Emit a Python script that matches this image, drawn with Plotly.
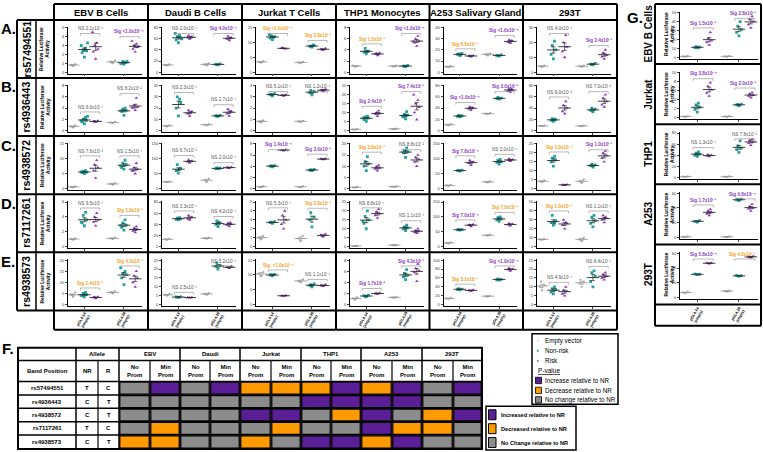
import plotly.graph_objects as go

W, H = 763, 452

cells = ["EBV B Cells", "Daudi B Cells", "Jurkat T Cells", "THP1 Monocytes", "A253 Salivary Gland", "293T"]
snps = ["rs57494551", "rs4936443", "rs4938572", "rs7117261", "rs4938573"]
row_letters = ["A.", "B.", "C.", "D.", "E."]
vector_labels = ["pGL4.14<br>(empty)", "pGL4.26<br>(empty)"]
g_cells = ["EBV B Cells", "Jurkat", "THP1", "A253", "293T"]

# each panel: [EV1, NR1, R1, EV2, NR2, R2]
A_EBV = [[0.7, 0.8, 0.9], [1.7, 2.2, 2.4, 2.5, 2.7, 3.0, 3.3, 2.6], [1.5, 2.3, 2.6, 3.0, 3.3, 4.5], [1.0, 1.2, 1.3, 1.1], [0.9, 1.0, 1.1, 1.2, 1.1, 1.0, 1.2], [2.3, 2.6, 2.8, 3.0, 3.2, 3.5, 2.9]]
A_Daudi = [[12, 13, 14], [53, 58, 62, 64, 66, 70, 60], [60, 62, 64, 66, 62], [12, 14, 16], [13, 14, 15, 14], [57, 60, 62, 65, 61]]
A_Jurkat = [[3.2, 3.5, 3.7], [11, 11.5, 12, 12.3, 11.8, 12.6], [8, 8.1, 7.9, 8.2], [3, 3.3, 3.5], [8.5, 8.8, 9, 8.6, 9.2], [7.5, 7.8, 8, 7.6]]
A_THP1 = [[1.0, 1.2, 1.1], [3.3, 3.6, 3.8, 4.3, 3.7], [3.0, 3.3, 3.5, 3.4, 3.2], [1.0, 1.1, 1.2], [1.0, 1.1, 1.2, 1.1], [4.7, 5.3, 5.6, 6.0, 6.5, 5.5]]
A_A253 = [[4.5, 5, 5.5], [15, 16, 17, 16.5, 15.5], [14, 14.5, 15, 14.8], [15, 16, 17], [14.5, 15, 15.5, 15.2], [26, 27, 28, 29, 28.5]]
A_293T = [[3.5, 4, 4.5], [9, 12, 15, 18, 21], [10, 14, 17, 20, 25], [3.5, 4, 4.5], [5, 5.5, 6, 5.2], [9, 10.5, 11.5, 13, 15]]

B_EBV = [[0.5, 0.7, 0.9], [1.2, 1.5, 1.8, 2.0, 2.3, 1.7, 2.5], [1.5, 1.6, 1.7, 1.6], [1.3, 1.4, 1.5], [2.7, 3.4, 3.6, 3.8, 4.0, 3.5], [3.6, 4.0, 4.2, 4.5, 5.8, 4.1]]
B_Daudi = [[3.5, 4, 4.5], [13, 20, 25, 30, 28], [13, 15, 17, 18, 16], [4.5, 5, 5.5], [12.5, 13, 13.5, 13], [13, 15, 17, 19, 17]]
B_Jurkat = [[0.7, 0.8, 0.9], [3.1, 3.2, 3.3, 3.25], [3.1, 3.15, 3.2], [0.75, 0.8, 0.85], [3.2, 3.4, 3.5, 3.6], [3.5, 3.6, 3.7, 3.65]]
B_THP1 = [[0.3, 0.5, 0.7], [5, 6, 7, 7.5, 8, 7], [8, 9, 9.5, 10, 11], [0.6, 0.8, 1.0], [6.5, 7.5, 8.5, 9, 10.5, 8], [6, 10, 13, 15, 17, 20]]
B_A253 = [[9, 10, 11], [24, 25, 26, 27, 26], [36, 39, 40, 42, 41], [29, 30, 31], [56, 57, 58, 59], [69, 71, 73, 75, 74]]
B_293T = [[7.5, 8, 8.5], [16, 18, 19, 21, 20], [30, 34, 40, 45, 52], [7.5, 8, 8.5], [33, 36, 38, 40], [42, 46, 52, 58, 64]]

C_EBV = [[0.3, 0.5, 0.7], [5, 5.3, 5.5, 5.8, 6, 5.6], [3.5, 6, 7, 8, 9.5], [1.2, 1.5, 1.8], [6.5, 7, 8, 8.5, 9.5, 7.5], [5, 6, 6.5, 7, 8.5, 6]]
C_Daudi = [[21, 22, 23], [52, 60, 68, 80, 65], [87, 90, 93, 96], [22, 28, 33], [66, 67, 68, 69], [68, 70, 72, 71]]
C_Jurkat = [[0.2, 0.3, 0.4], [3.9, 4.0, 4.1, 4.05], [6.8, 6.9, 7.0], [0.2, 0.3, 0.4], [3.2, 3.3, 3.4, 3.35], [5.2, 5.3, 5.35]]
C_THP1 = [[0.3, 0.5, 0.7], [8, 10, 11, 12, 14.3], [8, 8.8, 9.2, 9.8, 10.5], [0.6, 0.8, 1.0], [14, 16, 16.5, 17, 18.2], [10, 12, 13, 14, 15]]
C_A253 = [[8, 10, 12], [58, 60, 62, 61], [78, 85, 90, 95], [20, 22, 24], [82, 88, 90, 95, 98], [92, 95, 97, 100]]
C_293T = [[3.5, 4, 4.5], [12.5, 15, 16, 17, 18], [1.8, 2, 2.2], [3, 4, 5], [12, 12.8, 13.2, 13.5], [15, 17, 18.5, 20, 21]]

D_EBV = [[0.9, 1.0, 1.1], [2.8, 3.2, 3.6, 4.2, 4.6, 3.3], [2.8, 3.3, 3.6, 4.0, 4.5], [1.0, 1.1, 1.2], [2.2, 2.6, 2.9, 3.2, 3.6, 2.8], [1.9, 2.1, 2.3, 2.5, 2.7]]
D_Daudi = [[12, 13, 14], [48, 49, 50, 51, 52], [48, 50, 53, 56], [14, 15, 16], [36, 40, 42, 46, 44], [36, 39, 40, 42, 43]]
D_Jurkat = [[0.8, 1.0, 1.2], [2.6, 2.7, 2.8, 2.75], [2.0, 2.5, 3.0, 3.5, 4.0], [0.6, 0.9, 1.2], [2.2, 3.0, 3.3, 3.8], [1.1, 1.3, 1.4, 1.2]]
D_THP1 = [[0.2, 0.3, 0.4], [10, 13, 15, 17, 20, 14], [16, 17.5, 18.5, 19.5, 21], [0.6, 0.8, 1.0], [9, 10, 10.5, 11, 12], [7.5, 8, 8.5, 9, 10]]
D_A253 = [[10, 12, 14], [55, 56, 57, 58], [68, 72, 75, 73], [36, 38, 40], [85, 90, 93, 97, 100], [70, 74, 76, 78]]
D_293T = [[7.5, 8, 8.5], [24, 27, 29, 35, 26], [20, 24, 26, 30, 27], [6, 8, 10], [22, 26, 29, 33, 35], [27, 30, 32, 35, 33]]

E_EBV = [[3.5, 4.5, 5.5, 4.3], [3.5, 4, 4.5, 5, 5.5, 4.2], [2.8, 3.2, 3.5, 3.4], [5, 5.5, 6], [9, 12, 13.5, 14, 15, 16.5], [8, 10, 12, 13, 15]]
E_Daudi = [[5, 5.5, 6], [4.1, 4.3, 4.4], [3.9, 4.0, 4.1], [5.5, 6, 6.5], [20, 21.5, 22, 23.5], [20.5, 21, 21.5]]
E_Jurkat = [[9.5, 10.5, 11], [9.7, 10, 10.2, 10.1], [2.9, 3.0, 3.1], [7.5, 8, 8.5], [6, 6.5, 7, 6.7], [6.2, 6.5, 6.8, 6.4]]
E_THP1 = [[0.9, 1.1, 1.3], [1.4, 1.6, 1.7, 1.5], [1.9, 2.0, 2.1, 2.0], [1.2, 1.3, 1.4], [4.5, 5, 5.3, 5.6, 6.3], [4.2, 5.8, 6.1, 6.5, 7.3]]
E_A253 = [[13, 14, 15], [33, 34, 35, 36], [31, 32, 33], [18, 19, 20], [55, 56, 57, 58], [76, 79, 80, 82]]
E_293T = [[8, 10, 11, 13], [6, 7, 8.5, 9, 10], [5, 6, 7.5, 8, 10], [10, 12, 13, 14], [10, 13, 16, 18, 19], [14, 15, 16, 17, 18]]

G_EBV = [[0.5, 1, 1.5], [10.5, 11, 11.5, 12, 11.2], [14, 17, 19, 21, 28], [0.5, 1, 1.5], [24, 28, 31, 35, 40], [33, 37, 40, 43, 46]]
G_Jurkat = [[0.1, 0.2, 0.3], [1.2, 1.8, 2.3, 2.8, 3.2], [4.8, 5.5, 6.2, 7, 7.8], [0.1, 0.2, 0.3], [2.6, 2.8, 3.0, 2.9], [4.4, 4.8, 5.0, 5.3, 5.6]]
G_THP1 = [[1, 1.5, 2], [38, 40, 42, 44, 46], [38, 39, 40, 41], [1, 1.5, 2], [45, 50, 53, 57, 66], [58, 62, 64, 67, 69]]
G_A253 = [[0.5, 1, 1.5], [21, 22, 23], [30, 32, 34, 36, 38], [0.5, 1, 1.5], [50, 51, 52, 51.5], [36, 39, 40, 42, 45]]
G_293T = [[6, 7, 8], [31, 32, 31.5], [46, 47, 46.5], [8, 9, 9.5], [29, 30, 29.5], [54, 55, 56]]

# y axis max / tick step per panel
A_ymax = [5, 80, 15, 8, 40, 30]; A_step = [1, 20, 5, 2, 10, 10]
B_ymax = [8, 40, 4, 25, 80, 80]; B_step = [2, 10, 1, 5, 20, 20]
C_ymax = [15, 150, 8, 20, 150, 25]; C_step = [5, 50, 2, 5, 50, 5]
D_ymax = [6, 80, 5, 25, 150, 50]; D_step = [2, 20, 1, 5, 50, 10]
E_ymax = [20, 25, 15, 8, 100, 25]; E_step = [5, 5, 5, 2, 20, 5]
G_ymax = [50, 10, 80, 60, 60]; G_step = [10, 2, 20, 20, 20]

# p-value labels (first pair = pGL4.14, second = pGL4.26); kind: n=NS, u=increase, d=decrease
A_p1 = ["NS 2.1x10⁻¹", "NS 2.0x10⁻¹", "Sig <1.0x10⁻⁴", "Sig 1.5x10⁻³", "Sig 6.5x10⁻³", "NS 4.0x10⁻¹"]; A_k1 = "nndddn"
A_p2 = ["Sig <1.0x10⁻⁴", "Sig 4.0x10⁻⁴", "Sig 2.8x10⁻³", "Sig <1.0x10⁻⁴", "Sig <1.0x10⁻⁴", "Sig 2.4x10⁻³"]; A_k2 = "uuduuu"
B_p1 = ["NS 6.6x10⁻¹", "NS 2.3x10⁻¹", "NS 5.1x10⁻¹", "Sig 2.4x10⁻³", "Sig <1.0x10⁻⁴", "NS 6.0x10⁻²"]; B_k1 = "nnnuun"
B_p2 = ["NS 8.2x10⁻²", "NS 2.7x10⁻¹", "NS 1.2x10⁻¹", "Sig 7.4x10⁻²", "Sig 3.0x10⁻³", "NS 7.0x10⁻²"]; B_k2 = "nnnuun"
C_p1 = ["NS 7.6x10⁻²", "NS 6.7x10⁻²", "Sig 1.4x10⁻⁴", "Sig 3.8x10⁻²", "Sig 7.8x10⁻⁴", "Sig 1.0x10⁻⁴"]; C_k1 = "nnudud"
C_p2 = ["NS 1.5x10⁻¹", "NS 2.0x10⁻¹", "Sig 3.0x10⁻³", "NS 8.8x10⁻²", "NS 2.0x10⁻¹", "Sig 1.0x10⁻²"]; C_k2 = "nnunnu"
D_p1 = ["NS 9.5x10⁻¹", "NS 3.3x10⁻¹", "NS 5.3x10⁻¹", "NS 8.8x10⁻¹", "Sig 7.0x10⁻⁴", "Sig 1.0x10⁻²"]; D_k1 = "nnnnud"
D_p2 = ["Sig 1.8x10⁻²", "NS 4.2x10⁻¹", "Sig 2.8x10⁻³", "NS 1.1x10⁻¹", "Sig 7.0x10⁻³", "NS 1.1x10⁻¹"]; D_k2 = "dndndn"
E_p1 = ["Sig 2.4x10⁻²", "NS 2.5x10⁻¹", "Sig. <1.0x10⁻⁴", "Sig 1.7x10⁻³", "Sig 3.1x10⁻²", "NS 4.9x10⁻¹"]; E_k1 = "dndudn"
E_p2 = ["Sig 4.3x10⁻²", "NS 5.2x10⁻¹", "NS 1.1x10⁻¹", "Sig 4.3x10⁻²", "Sig <1.0x10⁻⁴", "NS 8.4x10⁻¹"]; E_k2 = "dnnuun"
G_p1 = ["Sig 1.5x10⁻³", "Sig 3.8x10⁻⁴", "NS 1.3x10⁻¹", "Sig 1.7x10⁻³", "Sig 5.8x10⁻⁴"]; G_k1 = "uunuu"
G_p2 = ["Sig 2.8x10⁻²", "Sig 2.0x10⁻³", "NS 7.8x10⁻²", "Sig 6.8x10⁻⁴", "Sig 4.0x10⁻⁴"]; G_k2 = "uunud"

# table F
tbl_alleles_nr = ["T", "C", "C", "T", "C"]
tbl_alleles_r = ["C", "T", "T", "C", "T"]
tbl_cells = ["EBV", "Daudi", "Jurkat", "THP1", "A253", "293T"]
# P = increase, O = decrease, G = no change ; columns: (No Prom, Min Prom) per cell line
tbl_rs57494551 = "GPGPOOOPOPGP"
tbl_rs4936443 = "GGGGGGPPPPGG"
tbl_rs4938572 = "GGGGPPGOPGOP"
tbl_rs7117261 = "GOGGGOGGPOOG"
tbl_rs4938573 = "OOGGOGPPOPGG"

# ---------------------------------------------------------------- styling
FONT = "Liberation Sans, Arial, sans-serif"
TEAL = "#22a39c"
PURP = "#9235c4"
EVC = "#a8a8a8"
T_PURP = "#8a3cc2"
T_ORNG = "#f4a21c"
T_NS = "#555555"
F_PURP = "#5a1f96"
F_ORNG = "#ff9a00"
F_GREY = "#8c8c8c"
kind_col = {"n": T_NS, "u": T_PURP, "d": T_ORNG}
fill_col = {"P": F_PURP, "O": F_ORNG, "G": F_GREY}

POS = [0, 1, 2, 3.5, 4.5, 5.5]
JIT = [0.0, -0.2, 0.2, -0.1, 0.1, -0.28, 0.28, 0.05]
XR = [-0.45, 6.1]


def X(px):
    return px / W


def Y(py):
    return 1 - py / H


fig = go.Figure()
shapes = []
annots = []
layout_axes = {}


def line(x0, y0, x1, y1, w=1.5, c="black"):
    shapes.append(dict(type="line", xref="paper", yref="paper", x0=X(x0), y0=Y(y0), x1=X(x1), y1=Y(y1),
                       line=dict(color=c, width=w)))


def rect(x0, y0, x1, y1, fill="rgba(0,0,0,0)", w=1.5, c="black"):
    shapes.append(dict(type="rect", xref="paper", yref="paper", x0=X(x0), y0=Y(y0), x1=X(x1), y1=Y(y1),
                       line=dict(color=c, width=w), fillcolor=fill))


def text(x, y, s, size, color="black", bold=False, angle=0, xanchor="center", yanchor="middle"):
    if bold:
        s = "<b>" + s + "</b>"
    annots.append(dict(x=X(x), y=Y(y), xref="paper", yref="paper", text=s, showarrow=False,
                       font=dict(size=size, color=color, family=FONT), textangle=angle,
                       xanchor=xanchor, yanchor=yanchor))


axn = [0]


def mean(v):
    return sum(v) / len(v)


def sem(v):
    m = mean(v)
    if len(v) < 2:
        return 0
    var = sum((a - m) ** 2 for a in v) / (len(v) - 1)
    return (var ** 0.5) / (len(v) ** 0.5)


def add_panel(px0, px1, py0, py1, data, ymax, step, p1, k1, p2, k2, edge_px):
    axn[0] += 1
    n = axn[0]
    xa = "x" if n == 1 else f"x{n}"
    ya = "y" if n == 1 else f"y{n}"
    layout_axes[f"xaxis{n}"] = dict(domain=[X(px0), X(px1)], anchor=ya, range=XR,
                                    showline=True, linecolor="black", linewidth=0.8, showgrid=False,
                                    zeroline=False, tickvals=[1, 4.5], ticktext=["", ""], ticks="outside",
                                    ticklen=2, tickwidth=0.6, fixedrange=True)
    layout_axes[f"yaxis{n}"] = dict(domain=[Y(py1), Y(py0)], anchor=xa, range=[-0.03 * ymax, ymax * 1.02],
                                    showline=True, linecolor="black", linewidth=0.8, showgrid=False,
                                    zeroline=False, tickvals=[i * step for i in range(int(round(ymax / step)) + 1)],
                                    ticks="outside", ticklen=2, tickwidth=0.6,
                                    tickfont=dict(size=4, family=FONT, color="#333"), fixedrange=True)
    specs = [(0, EVC, "circle", 2.2), (1, TEAL, "square", 2.8), (2, PURP, "triangle-up", 3.2)]
    for off, col, sym, sz in specs:
        xs, ys = [], []
        for g in (off, off + 3):
            for i, v in enumerate(data[g]):
                xs.append(POS[g] + JIT[i % len(JIT)])
                ys.append(v)
        fig.add_trace(go.Scatter(x=xs, y=ys, xaxis=xa, yaxis=ya, mode="markers", showlegend=False,
                                 marker=dict(color=col, symbol=sym, size=sz, line=dict(width=0)),
                                 hoverinfo="skip"))
    for idxs, col in (([0, 3], "#9a9a9a"), ([1, 2, 4, 5], "#2b2b2b")):
        fig.add_trace(go.Scatter(x=[POS[g] for g in idxs], y=[mean(data[g]) for g in idxs], xaxis=xa, yaxis=ya,
                                 mode="markers", showlegend=False, hoverinfo="skip",
                                 marker=dict(symbol="line-ew", size=9, line=dict(width=0.9, color=col)),
                                 error_y=dict(type="data", array=[sem(data[g]) for g in idxs], width=2,
                                              thickness=0.7, color=col)))
    pxu = (px1 - px0) / (XR[1] - XR[0])
    for (a, b), lab, kd in (((1, 2), p1, k1), ((4, 5), p2, k2)):
        top = max(max(data[a]), max(data[b]), mean(data[a]) + sem(data[a]), mean(data[b]) + sem(data[b]))
        yb = min(top + 0.1 * ymax, 0.87 * ymax)
        d = 0.05 * ymax
        xl, xr = POS[a] - 0.35, POS[b] + 0.35
        shapes.append(dict(type="path", xref=xa, yref=ya,
                           path=f"M {xl},{yb - d} L {xl},{yb} L {xr},{yb} L {xr},{yb - d}",
                           line=dict(color="#8a8a8a", width=0.6)))
        lt = lab if kd == "n" else "<b>" + lab + "</b>"
        cx = px0 + ((xl + xr) / 2 - XR[0]) * pxu
        half = len(lab) * 1.25 + 1
        shift = min(0, edge_px - (cx + half))
        annots.append(dict(x=(xl + xr) / 2, y=yb, xref=xa, yref=ya, text=lt, showarrow=False,
                           yanchor="bottom", xanchor="center", yshift=0.3, xshift=shift,
                           font=dict(size=4.6, color=kind_col[kd], family=FONT)))


# ---------------------------------------------------------------- main grid
colx = [54, 148, 242, 336, 429.5, 523, 617]
rowy = [18, 76.5, 135, 193.5, 252, 310.5]
head_top, tick_bot = 2, 330

rows_data = [
    ([A_EBV, A_Daudi, A_Jurkat, A_THP1, A_A253, A_293T], A_ymax, A_step, A_p1, A_k1, A_p2, A_k2),
    ([B_EBV, B_Daudi, B_Jurkat, B_THP1, B_A253, B_293T], B_ymax, B_step, B_p1, B_k1, B_p2, B_k2),
    ([C_EBV, C_Daudi, C_Jurkat, C_THP1, C_A253, C_293T], C_ymax, C_step, C_p1, C_k1, C_p2, C_k2),
    ([D_EBV, D_Daudi, D_Jurkat, D_THP1, D_A253, D_293T], D_ymax, D_step, D_p1, D_k1, D_p2, D_k2),
    ([E_EBV, E_Daudi, E_Jurkat, E_THP1, E_A253, E_293T], E_ymax, E_step, E_p1, E_k1, E_p2, E_k2),
]

for r, (dl, ym, st, p1, k1, p2, k2) in enumerate(rows_data):
    for c in range(6):
        add_panel(colx[c] + 14, colx[c + 1] - 6, rowy[r] + 7, rowy[r + 1] - 4.5, dl[c], ym[c], st[c],
                  p1[c], k1[c], p2[c], k2[c], colx[c + 1] - 2)

line(colx[0], head_top, colx[-1], head_top, 2)
for yy in rowy:
    line(17, yy, colx[-1], yy, 2)
line(colx[0], tick_bot, colx[-1], tick_bot, 2)
for xx in colx:
    line(xx, head_top, xx, tick_bot, 2)
line(17, rowy[0], 17, rowy[-1], 2)
line(36, rowy[0], 36, rowy[-1], 1.5)

for c, name in enumerate(cells):
    text((colx[c] + colx[c + 1]) / 2, (head_top + rowy[0]) / 2 + 0.5, name, 9.5, bold=True)
for r in range(5):
    ymid = (rowy[r] + rowy[r + 1]) / 2
    text(8, rowy[r] + 9, row_letters[r], 15, bold=True)
    text(26.5, ymid, snps[r], 10.5, bold=True, angle=-90)
    text(45, ymid, "Relative Luciferase<br>Activity", 4.8, bold=True, angle=-90)
for c in range(6):
    px0 = colx[c] + 14
    span = (colx[c + 1] - 6) - px0
    for j, lab in enumerate(vector_labels):
        xp = px0 + span * ((POS[1 + 3 * j] - XR[0]) / (XR[1] - XR[0]))
        text(xp, 320, lab, 3.8, bold=True, angle=-60)

# ---------------------------------------------------------------- G column
gx0, gx1 = 655, 761
gy = [2, 62.5, 123, 183.5, 244, 304.5]
g_bot = 326
G_data = [G_EBV, G_Jurkat, G_THP1, G_A253, G_293T]
for r in range(5):
    add_panel(680, 758, gy[r] + 8, gy[r + 1] - 5.5, G_data[r], G_ymax[r], G_step[r], G_p1[r], G_k1[r],
              G_p2[r], G_k2[r], gx1 - 2)
    ymid = (gy[r] + gy[r + 1]) / 2
    text(648.5, ymid, g_cells[r], 10, bold=True, angle=-90)
    text(669, ymid, "Relative Luciferase<br>Activity", 4.8, bold=True, angle=-90)
for yy in gy:
    line(gx0, yy, gx1, yy, 2)
line(gx0, g_bot, gx1, g_bot, 2)
line(gx0, gy[0], gx0, g_bot, 2)
line(gx1, gy[0], gx1, g_bot, 2)
text(635, 16, "G.", 15, bold=True)
for j, lab in enumerate(vector_labels):
    xp = 680 + 78 * ((POS[1 + 3 * j] - XR[0]) / (XR[1] - XR[0]))
    text(xp, 315, lab, 3.8, bold=True, angle=-60)

# ---------------------------------------------------------------- table F
tx = [18, 76, 98, 119, 150, 180, 210, 240, 271, 301, 331, 361, 392, 422, 453, 482]
ty = [348, 361, 382, 395.5, 409, 422.5, 436, 450]
text(8, 349, "F.", 15, bold=True)
rect(tx[0], ty[0], tx[-1], ty[-1], w=2)
for yy in ty[1:-1]:
    line(tx[0], yy, tx[-1], yy, 1.5)
line(tx[1], ty[0], tx[1], ty[-1], 1.5)
for k in range(3, 16, 2):
    line(tx[k], ty[0], tx[k], ty[-1], 1.5)
for k in range(2, 15, 2):
    line(tx[k], ty[1], tx[k], ty[-1], 1.2)
text((tx[1] + tx[3]) / 2, (ty[0] + ty[1]) / 2, "Allele", 6, bold=True)
for i, cname in enumerate(tbl_cells):
    text((tx[3 + 2 * i] + tx[5 + 2 * i]) / 2, (ty[0] + ty[1]) / 2, cname, 6, bold=True)
ym2 = (ty[1] + ty[2]) / 2
text((tx[0] + tx[1]) / 2, ym2, "Band Position", 6, bold=True)
text((tx[1] + tx[2]) / 2, ym2, "NR", 6, bold=True)
text((tx[2] + tx[3]) / 2, ym2, "R", 6, bold=True)
for k in range(3, 15):
    lab = "No<br>Prom" if (k - 3) % 2 == 0 else "Min<br>Prom"
    text((tx[k] + tx[k + 1]) / 2, ym2, lab, 6, bold=True)
tbl_rows = [tbl_rs57494551, tbl_rs4936443, tbl_rs4938572, tbl_rs7117261, tbl_rs4938573]
for i, codes in enumerate(tbl_rows):
    y0, y1 = ty[2 + i], ty[3 + i]
    yc = (y0 + y1) / 2
    text((tx[0] + tx[1]) / 2, yc, snps[i], 6, bold=True)
    text((tx[1] + tx[2]) / 2, yc, tbl_alleles_nr[i], 6, bold=True)
    text((tx[2] + tx[3]) / 2, yc, tbl_alleles_r[i], 6, bold=True)
    for k, ch in enumerate(codes):
        rect(tx[3 + k] + 0.8, y0 + 0.8, tx[4 + k] - 0.8, y1 - 0.8, fill=fill_col[ch], w=1.2)

# table legend
rect(486, 407, 576, 451, w=1.5)
for i, (ch, lab) in enumerate([("P", "Increased relative to NR"), ("O", "Decreased relative to NR"),
                               ("G", "No Change relative to NR")]):
    yc = 415.5 + i * 14
    rect(488.5, yc - 5, 496, yc + 5, fill=fill_col[ch], w=1)
    text(499, yc, lab, 5.6, bold=True, xanchor="left")

# dot legend
rect(532, 334, 618, 405, w=1.5)
leg_y = [341, 351, 361, 371, 381, 391, 400.5]
shapes.append(dict(type="circle", xref="paper", yref="paper", x0=X(537.3), x1=X(538.7), y0=Y(341.7), y1=Y(340.3),
                   fillcolor=EVC, line=dict(width=0)))
rect(536.8, 350.2, 538.6, 352, fill=TEAL, w=0)
shapes.append(dict(type="path", xref="paper", yref="paper",
                   path=f"M {X(536.6)},{Y(362)} L {X(539)},{Y(362)} L {X(537.8)},{Y(359.8)} Z",
                   fillcolor=PURP, line=dict(width=0)))
text(543, 341, "Empty vector", 6.3, xanchor="left")
text(543, 351, "Non-risk", 6.3, xanchor="left")
text(543, 361, "Risk", 6.3, xanchor="left")
text(536, 371, "<u>P-value</u>", 6.5, xanchor="left")
for i, (ch, lab) in enumerate([("P", "Increase relative to NR"), ("O", "Decrease relative to NR"),
                               ("G", "No change relative to NR")]):
    yc = leg_y[4 + i]
    rect(535.5, yc - 3.2, 541.5, yc + 3.2, fill=fill_col[ch], w=0.8)
    text(543, yc, lab, 6.3, xanchor="left")

fig.update_layout(width=W, height=H, margin=dict(l=0, r=0, t=0, b=0), paper_bgcolor="white",
                  plot_bgcolor="white", showlegend=False, shapes=shapes, annotations=annots,
                  font=dict(family=FONT), **layout_axes)
fig.write_html("out.html", config={"displayModeBar": False},
               post_script="document.body.style.margin='0';document.body.style.overflow='hidden';")
